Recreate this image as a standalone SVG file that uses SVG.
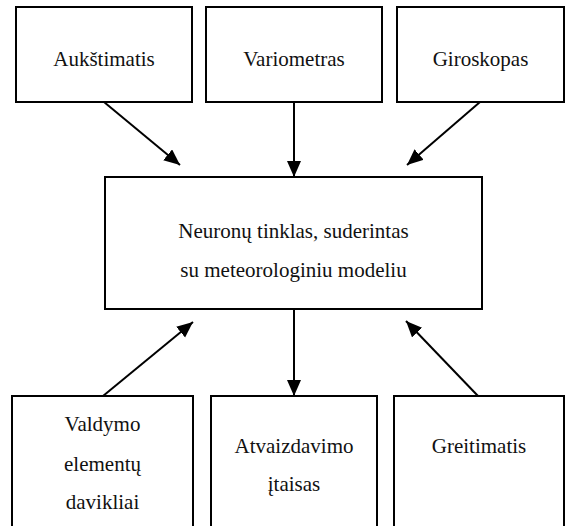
<svg xmlns="http://www.w3.org/2000/svg" width="565" height="526" viewBox="0 0 565 526">
<style>
.box{fill:#fff;stroke:#000;stroke-width:2}
.lbl{font-family:'Liberation Serif','Times New Roman',serif;font-size:21px;fill:#111;text-anchor:middle}
.con{stroke:#000;stroke-width:2;fill:none;marker-end:url(#ah)}
</style>
<defs>
<marker id="ah" markerUnits="userSpaceOnUse" markerWidth="18" markerHeight="16" refX="16" refY="7" orient="auto">
<path d="M0,0 L16,7 L0,14 Z" fill="#000"/>
</marker>
</defs>
<rect width="565" height="526" fill="#fff"/>
<g id="connectors">
<line class="con" x1="104" y1="102" x2="180" y2="165"/>
<line class="con" x1="294" y1="102" x2="294" y2="177"/>
<line class="con" x1="480" y1="102" x2="407" y2="165"/>
<line class="con" x1="294" y1="309" x2="294" y2="396"/>
<line class="con" x1="103" y1="396" x2="193" y2="322"/>
<line class="con" x1="478" y1="396" x2="406" y2="321"/>
</g>
<g id="n_auks"><rect class="box" x="16" y="7" width="176" height="95"/><text class="lbl" x="104" y="66">Aukštimatis</text></g>
<g id="n_vario"><rect class="box" x="206" y="7" width="176" height="95"/><text class="lbl" x="294" y="66">Variometras</text></g>
<g id="n_giro"><rect class="box" x="397" y="7" width="167" height="95"/><text class="lbl" x="480.5" y="66">Giroskopas</text></g>
<g id="n_neuro"><rect class="box" x="105" y="177" width="377" height="132"/><text class="lbl" x="293.5" y="238">Neuronų tinklas, suderintas</text><text class="lbl" x="293.5" y="277">su meteorologiniu modeliu</text></g>
<g id="n_valdymo"><rect class="box" x="12" y="396" width="181" height="140"/><text class="lbl" x="102.5" y="431">Valdymo</text><text class="lbl" x="102.5" y="471">elementų</text><text class="lbl" x="102.5" y="509">davikliai</text></g>
<g id="n_atvaiz"><rect class="box" x="211" y="396" width="166" height="140"/><text class="lbl" x="294" y="453">Atvaizdavimo</text><text class="lbl" x="294" y="491">įtaisas</text></g>
<g id="n_greit"><rect class="box" x="394" y="396" width="170" height="140"/><text class="lbl" x="479" y="453">Greitimatis</text></g>
</svg>
